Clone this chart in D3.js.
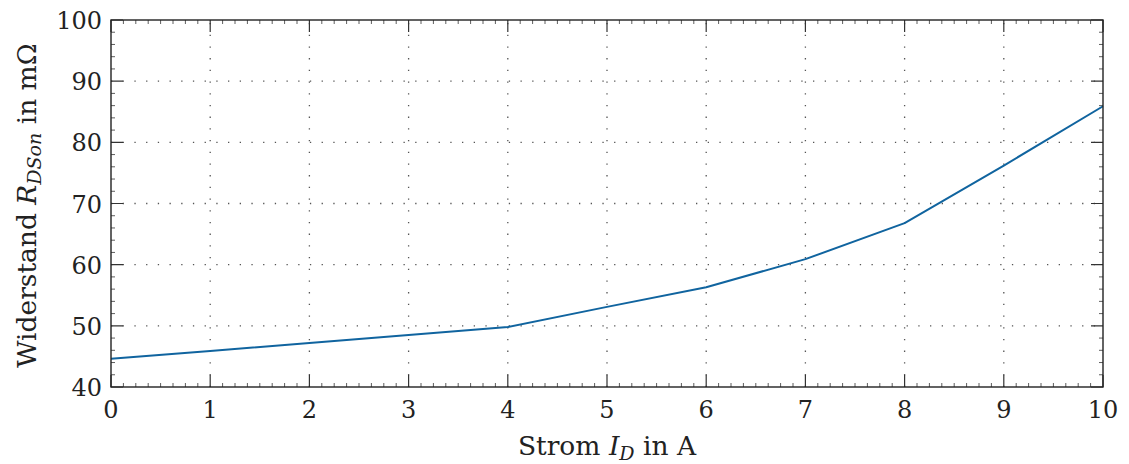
<!DOCTYPE html>
<html>
<head>
<meta charset="utf-8">
<script src="https://cdn.jsdelivr.net/npm/d3@7"></script>
<style>
  body { margin: 0; background: #fff; }
</style>
</head>
<body>
<div id="chart"></div>
<script>
const current = [0, 1, 2, 3, 4, 5, 6, 7, 8, 9, 10]
const resistance = [44.6, 45.9, 47.2, 48.5, 49.8, 53.1, 56.3, 60.9, 66.8, 76.2, 85.9]
const xTicks = [0, 1, 2, 3, 4, 5, 6, 7, 8, 9, 10]
const yTicks = [40, 50, 60, 70, 80, 90, 100]

const width = 1129
const height = 464
const margin = { top: 20, right: 26, bottom: 77, left: 111 }
const serif = "'DejaVu Serif', 'Liberation Serif', serif"

const svg = d3
  .select('#chart')
  .append('svg')
  .attr('width', width)
  .attr('height', height)
  .attr('font-family', serif)
  .style('font-family', serif)

const x = d3
  .scaleLinear()
  .domain([0, 10])
  .range([margin.left, width - margin.right])

const y = d3
  .scaleLinear()
  .domain([40, 100])
  .range([height - margin.bottom, margin.top])

const x0 = x.range()[0], x1 = x.range()[1]
const y0 = y.range()[0], y1 = y.range()[1]

// dotted major grid
const grid = svg.append('g')
  .attr('stroke', '#555')
  .attr('stroke-width', 1.3)
  .attr('stroke-dasharray', '1.3 10.4')

grid.selectAll('line.gx')
  .data(xTicks.slice(1, -1))
  .join('line')
  .attr('class', 'gx')
  .attr('x1', d => x(d)).attr('x2', d => x(d))
  .attr('y1', y0).attr('y2', y1)

grid.selectAll('line.gy')
  .data(yTicks.slice(1, -1))
  .join('line')
  .attr('class', 'gy')
  .attr('x1', x0).attr('x2', x1)
  .attr('y1', d => y(d)).attr('y2', d => y(d))

// minor ticks
const xMinor = d3.range(0, 10.0001, 0.125).filter(v => Math.abs(v - Math.round(v)) > 1e-6)
const yMinor = d3.range(40, 100.0001, 2).filter(v => v % 10 !== 0)
const minorLen = 4
const majorLen = 12

const ticks = svg.append('g').attr('stroke', '#333')

ticks.append('g').attr('stroke-width', 0.8)
  .selectAll('path')
  .data(xMinor)
  .join('path')
  .attr('d', d => `M${x(d)},${y0}v${-minorLen}M${x(d)},${y1}v${minorLen}`)

ticks.append('g').attr('stroke-width', 0.8)
  .selectAll('path')
  .data(yMinor)
  .join('path')
  .attr('d', d => `M${x0},${y(d)}h${minorLen}M${x1},${y(d)}h${-minorLen}`)

ticks.append('g').attr('stroke-width', 1.2)
  .selectAll('path')
  .data(xTicks)
  .join('path')
  .attr('d', d => `M${x(d)},${y0}v${-majorLen}M${x(d)},${y1}v${majorLen}`)

ticks.append('g').attr('stroke-width', 1.2)
  .selectAll('path')
  .data(yTicks)
  .join('path')
  .attr('d', d => `M${x0},${y(d)}h${majorLen}M${x1},${y(d)}h${-majorLen}`)

// data line
svg.append('path')
  .datum(current.map((c, i) => [c, resistance[i]]))
  .attr('fill', 'none')
  .attr('stroke', '#10649f')
  .attr('stroke-width', 2)
  .attr('stroke-linejoin', 'round')
  .attr('d', d3.line().x(d => x(d[0])).y(d => y(d[1])))

// frame
svg.append('rect')
  .attr('x', x0).attr('y', y1)
  .attr('width', x1 - x0).attr('height', y0 - y1)
  .attr('fill', 'none')
  .attr('stroke', '#222')
  .attr('stroke-width', 1.4)

// tick labels
svg.append('g')
  .attr('fill', '#222')
  .selectAll('text')
  .data(xTicks)
  .join('text')
  .attr('x', d => x(d))
  .attr('y', y0 + 31)
  .attr('text-anchor', 'middle')
  .attr('font-size', 24)
  .text(d => d)

svg.append('g')
  .attr('fill', '#222')
  .selectAll('text')
  .data(yTicks)
  .join('text')
  .attr('x', x0 - 9)
  .attr('y', d => y(d) + 9)
  .attr('text-anchor', 'end')
  .attr('font-size', 24)
  .text(d => d)

// axis labels
const xl = svg.append('text')
  .attr('x', (x0 + x1) / 2)
  .attr('y', 455)
  .attr('text-anchor', 'middle')
  .attr('font-size', 26.5)
  .attr('fill', '#222')
xl.append('tspan').text('Strom ')
xl.append('tspan').attr('font-style', 'italic').text('I')
xl.append('tspan').attr('font-style', 'italic').attr('font-size', 19).attr('dy', 5).text('D')
xl.append('tspan').attr('dy', -5).text(' in A')

const yl = svg.append('text')
  .attr('transform', `translate(36, ${(y0 + y1) / 2 + 2}) rotate(-90)`)
  .attr('text-anchor', 'middle')
  .attr('font-size', 26.5)
  .attr('fill', '#222')
yl.append('tspan').text('Widerstand ')
yl.append('tspan').attr('font-style', 'italic').text('R')
yl.append('tspan').attr('font-style', 'italic').attr('font-size', 19).attr('dy', 5).text('DSon')
yl.append('tspan').attr('dy', -5).text(' in mΩ')
</script>
</body>
</html>
